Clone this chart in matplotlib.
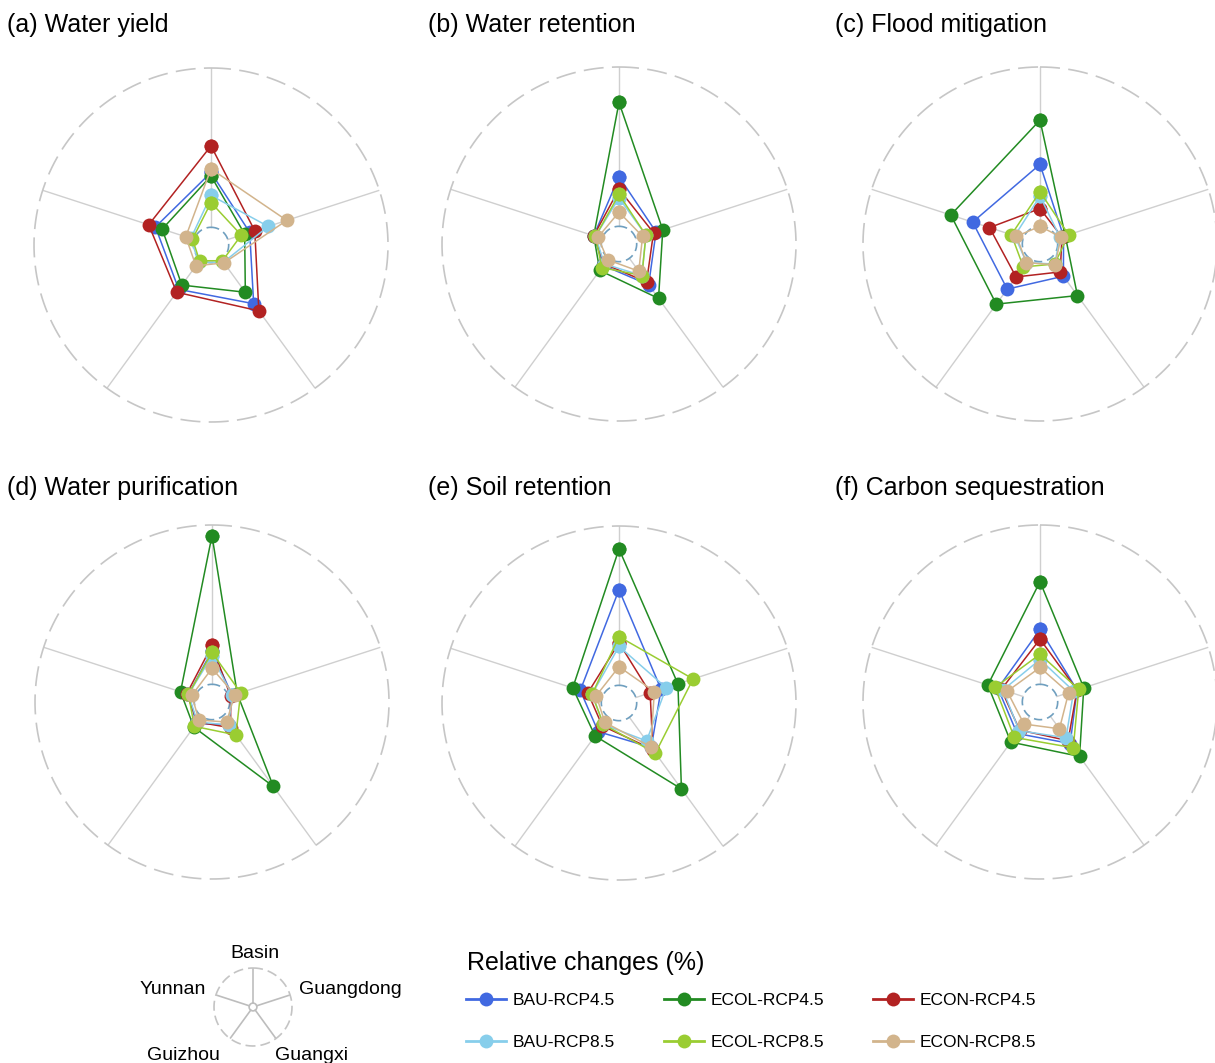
import numpy as np
import matplotlib.pyplot as plt
from matplotlib.lines import Line2D

plt.rcParams['font.family'] = ['Liberation Sans', 'DejaVu Sans']

# regions on the radar spokes, clockwise from the top
regions = ['Basin', 'Guangdong', 'Guangxi', 'Guizhou', 'Yunnan']
scenarios = ['BAU-RCP4.5', 'ECOL-RCP4.5', 'ECON-RCP4.5',
             'BAU-RCP8.5', 'ECOL-RCP8.5', 'ECON-RCP8.5']
colors = ['#4169e1', '#228b22', '#b22222', '#87ceeb', '#9acd32', '#d2b48c']

# radial position of each point (outer dashed circle = 100, inner dashed circle = 10)
# rows follow scenarios, columns follow regions
water_yield = [
    [41, 23, 41, 31, 33],
    [39, 20, 33, 28, 29],
    [56, 26, 46, 33, 37],
    [28, 34, 12, 12, 12],
    [24, 18, 11, 11, 11],
    [43, 45, 12.5, 14.5, 15],
]
water_retention = [
    [38, 22, 28.5, 15, 15],
    [80, 26, 38, 18.5, 15],
    [31, 20.5, 26.5, 14, 15],
    [26, 16, 22, 14, 14],
    [28, 16, 22, 16.5, 14],
    [18, 14, 19, 11, 12.5],
]
flood_mitigation = [
    [45, 14, 22.5, 31.5, 40],
    [70, 15, 36, 42, 53],
    [20, 13, 19.5, 23, 30],
    [27, 12, 14, 13, 15],
    [29.5, 17, 14, 16, 17],
    [10, 12.5, 14.5, 13, 14],
]
water_purification = [
    [29, 12, 16, 15, 14],
    [94, 15, 59, 17.5, 18.7],
    [32, 11, 18, 14, 15],
    [26, 12, 16, 14, 14],
    [28, 17, 23, 17, 14],
    [19, 13.5, 14, 12.6, 12],
]
soil_retention = [
    [64, 25, 31, 20, 23],
    [87, 35, 60, 23, 27.5],
    [34, 18.5, 32.5, 16, 18.5],
    [32, 28, 26.5, 15, 16],
    [37.5, 44, 35, 15, 16],
    [20.5, 21, 30.5, 13.6, 13.5],
]
carbon_sequestration = [
    [41, 22, 29, 22, 25],
    [68, 26, 38, 28, 31],
    [35.5, 22, 27, 19.6, 23],
    [24, 20, 25, 20, 22],
    [27, 23, 32, 24.7, 26.7],
    [19.5, 17, 18.7, 15.4, 19.5],
]

titles = ['(a) Water yield', '(b) Water retention', '(c) Flood mitigation',
          '(d) Water purification', '(e) Soil retention', '(f) Carbon sequestration']
panels = [water_yield, water_retention, flood_mitigation,
          water_purification, soil_retention, carbon_sequestration]

W, H = 1215, 1063
fig = plt.figure(figsize=(W / 100, H / 100), dpi=100)

angles = np.deg2rad(np.arange(len(regions)) * 72)
circle = np.linspace(0, 2 * np.pi, 400)


def box(cx, cy, r):
    return [(cx - r) / W, 1 - (cy + r) / H, 2 * r / W, 2 * r / H]


def setup(ax):
    ax.set_theta_offset(np.pi / 2)
    ax.set_theta_direction(-1)
    ax.set_ylim(0, 100)
    ax.grid(False)
    ax.set_xticks([])
    ax.set_yticks([])
    ax.spines['polar'].set_visible(False)
    ax.patch.set_alpha(0)


def radar(ax, data):
    setup(ax)
    for a in angles:
        ax.plot([a, a], [10, 100], color='#cfcfcf', lw=1.0, zorder=1)
    ax.plot(circle, np.full_like(circle, 100), color='#c6c6c6', lw=1.2,
            ls=(0, (12, 5)), clip_on=False, zorder=1)
    ax.plot(circle, np.full_like(circle, 10), color='#6f9fbf', lw=1.2,
            ls=(0, (5, 3)), zorder=1)
    for vals, c in zip(data, colors):
        th = np.append(angles, angles[0])
        rr = np.append(vals, vals[0])
        ax.plot(th, rr, color=c, lw=1.1, marker='o', ms=10, mec='none', zorder=3)


centers = [(211, 245), (619, 244), (1040, 244), (212, 702), (619, 703), (1040, 702)]
title_pos = [(7, 32), (428, 32), (835, 32), (7, 495), (428, 495), (835, 495)]
R = 177

for data, t, (cx, cy), (tx, ty) in zip(panels, titles, centers, title_pos):
    ax = fig.add_axes(box(cx, cy, R), projection='polar')
    radar(ax, data)
    fig.text(tx / W, 1 - ty / H, t, fontsize=18, ha='left', va='baseline')

# key to the spokes
key = fig.add_axes(box(253, 1007, 39), projection='polar')
setup(key)
for a in angles:
    key.plot([a, a], [10, 100], color='#bdbdbd', lw=1.2)
key.plot(circle, np.full_like(circle, 100), color='#c4c4c4', lw=1.2,
         ls=(0, (6, 3)), clip_on=False)
key.plot(circle, np.full_like(circle, 10), color='#bdbdbd', lw=1.2)

key_labels = [(255, 953, 'center'), (299, 990, 'left'), (312, 1055, 'center'),
              (183, 1055, 'center'), (206, 990, 'right')]
for name, (x, y, ha) in zip(regions, key_labels):
    fig.text(x / W, 1 - y / H, name, fontsize=14, ha=ha, va='center')

fig.text(467 / W, 1 - 963 / H, 'Relative changes (%)', fontsize=18,
         ha='left', va='center')
handles = [Line2D([], [], color=c, lw=2, marker='o', ms=10, mec='none') for c in colors]
# rearrange so the legend fills rows: 4.5 scenarios on top, 8.5 below
order = [0, 3, 1, 4, 2, 5]
leg = fig.legend([handles[i] for i in order], [scenarios[i] for i in order],
                 loc='upper left', bbox_to_anchor=(466 / W, 1 - 993 / H), ncol=3,
                 frameon=False, fontsize=12.5, handlelength=2.3,
                 handletextpad=0.4, columnspacing=2.8, labelspacing=1.55,
                 borderpad=0, borderaxespad=0)

fig.savefig('out.png', dpi=100)
